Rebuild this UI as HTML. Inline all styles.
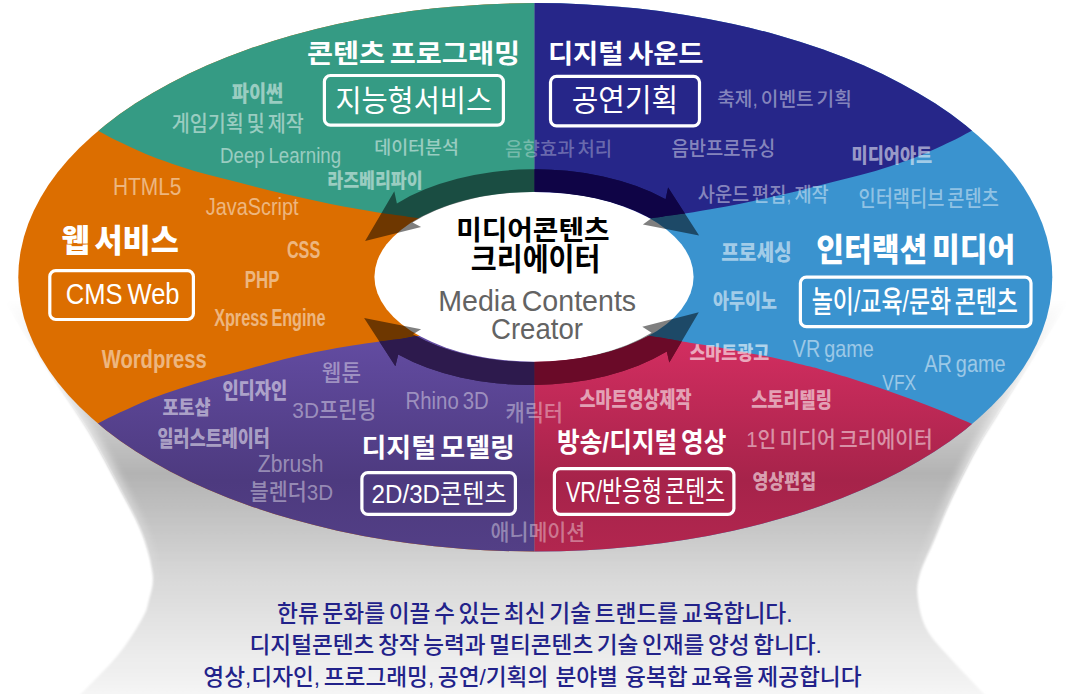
<!DOCTYPE html>
<html lang="ko"><head><meta charset="utf-8"><title>미디어콘텐츠 크리에이터</title>
<style>html,body{margin:0;padding:0;background:#fff}svg{display:block}text{font-family:"Liberation Sans","Noto Sans CJK KR",sans-serif;white-space:pre}</style></head><body>
<svg width="1074" height="694" viewBox="0 0 1074 694">
<defs>
<linearGradient id="gped" gradientUnits="userSpaceOnUse" x1="0" y1="300" x2="0" y2="694">
<stop offset="0" stop-color="#ffffff"/><stop offset="0.25" stop-color="#d6d6d6"/><stop offset="0.44" stop-color="#b3b3b3"/><stop offset="0.70" stop-color="#d8d8d8"/><stop offset="1" stop-color="#f5f5f5"/></linearGradient>
<linearGradient id="gpur" gradientUnits="userSpaceOnUse" x1="0" y1="336" x2="0" y2="552"><stop offset="0" stop-color="#634ca2"/><stop offset="0.67" stop-color="#4d3a7f"/><stop offset="1" stop-color="#533f86"/></linearGradient>
<linearGradient id="gcri" gradientUnits="userSpaceOnUse" x1="0" y1="336" x2="0" y2="552"><stop offset="0" stop-color="#d42e61"/><stop offset="0.67" stop-color="#a6234a"/><stop offset="1" stop-color="#b2264f"/></linearGradient>
<linearGradient id="ghl" gradientUnits="userSpaceOnUse" x1="0" y1="470" x2="0" y2="590"><stop offset="0" stop-color="#fff"/><stop offset="1" stop-color="#000"/></linearGradient>
<mask id="hlmask" maskUnits="userSpaceOnUse" x="-30" y="250" width="1140" height="480"><rect x="-30" y="250" width="1140" height="480" fill="url(#ghl)"/></mask>
<clipPath id="big"><ellipse cx="535.3" cy="277.3" rx="517" ry="274.2"/></clipPath>
<filter id="blur" x="-10%" y="-10%" width="120%" height="120%"><feGaussianBlur stdDeviation="1"/></filter>
<filter id="blur6" x="-10%" y="-10%" width="120%" height="120%"><feGaussianBlur stdDeviation="4"/></filter>
</defs>
<clipPath id="pedclip"><path d="M-22.0,262.0 C-18.3,267.2 -8.8,279.5 0.0,293.0 C8.8,306.5 21.3,327.7 31.0,343.0 C40.7,358.3 48.3,370.2 58.0,385.0 C67.7,399.8 79.0,415.3 89.0,432.0 C99.0,448.7 109.2,468.2 118.0,485.0 C126.8,501.8 136.2,518.1 142.0,533.0 C147.8,547.9 151.5,563.3 152.7,574.5 C153.9,585.7 150.8,592.6 149.0,600.0 C147.2,607.4 147.2,609.8 142.0,619.0 C136.8,628.2 128.2,642.5 118.0,655.0 C107.8,667.5 92.7,681.8 81.0,694.0 C69.3,706.2 53.5,722.3 48.0,728.0 L1015.0,728.0 C1009.5,722.0 992.8,703.7 982.0,692.0 C971.2,680.3 959.2,668.3 950.0,658.0 C940.8,647.7 932.3,639.7 927.0,630.0 C921.7,620.3 919.2,609.2 918.0,600.0 C916.8,590.8 916.8,585.0 919.5,575.0 C922.2,565.0 929.8,550.3 934.0,540.0 C938.2,529.7 941.2,521.8 945.0,513.0 C948.8,504.2 953.0,495.3 957.0,487.0 C961.0,478.7 965.0,470.7 969.0,463.0 C973.0,455.3 976.8,448.2 981.0,441.0 C985.2,433.8 987.7,430.2 994.0,420.0 C1000.3,409.8 1011.0,392.8 1019.0,380.0 C1027.0,367.2 1033.3,356.8 1042.0,343.0 C1050.7,329.2 1062.0,310.5 1071.0,297.0 C1080.0,283.5 1091.8,267.8 1096.0,262.0 Z"/></clipPath>
<path d="M-22.0,262.0 C-18.3,267.2 -8.8,279.5 0.0,293.0 C8.8,306.5 21.3,327.7 31.0,343.0 C40.7,358.3 48.3,370.2 58.0,385.0 C67.7,399.8 79.0,415.3 89.0,432.0 C99.0,448.7 109.2,468.2 118.0,485.0 C126.8,501.8 136.2,518.1 142.0,533.0 C147.8,547.9 151.5,563.3 152.7,574.5 C153.9,585.7 150.8,592.6 149.0,600.0 C147.2,607.4 147.2,609.8 142.0,619.0 C136.8,628.2 128.2,642.5 118.0,655.0 C107.8,667.5 92.7,681.8 81.0,694.0 C69.3,706.2 53.5,722.3 48.0,728.0 L1015.0,728.0 C1009.5,722.0 992.8,703.7 982.0,692.0 C971.2,680.3 959.2,668.3 950.0,658.0 C940.8,647.7 932.3,639.7 927.0,630.0 C921.7,620.3 919.2,609.2 918.0,600.0 C916.8,590.8 916.8,585.0 919.5,575.0 C922.2,565.0 929.8,550.3 934.0,540.0 C938.2,529.7 941.2,521.8 945.0,513.0 C948.8,504.2 953.0,495.3 957.0,487.0 C961.0,478.7 965.0,470.7 969.0,463.0 C973.0,455.3 976.8,448.2 981.0,441.0 C985.2,433.8 987.7,430.2 994.0,420.0 C1000.3,409.8 1011.0,392.8 1019.0,380.0 C1027.0,367.2 1033.3,356.8 1042.0,343.0 C1050.7,329.2 1062.0,310.5 1071.0,297.0 C1080.0,283.5 1091.8,267.8 1096.0,262.0 Z" fill="url(#gped)" filter="url(#blur)"/>
<g clip-path="url(#pedclip)" mask="url(#hlmask)"><path d="M-22.0,262.0 C-18.3,267.2 -8.8,279.5 0.0,293.0 C8.8,306.5 21.3,327.7 31.0,343.0 C40.7,358.3 48.3,370.2 58.0,385.0 C67.7,399.8 79.0,415.3 89.0,432.0 C99.0,448.7 109.2,468.2 118.0,485.0 C126.8,501.8 136.2,518.1 142.0,533.0 C147.8,547.9 151.5,563.3 152.7,574.5 C153.9,585.7 150.8,592.6 149.0,600.0 C147.2,607.4 147.2,609.8 142.0,619.0 C136.8,628.2 128.2,642.5 118.0,655.0 C107.8,667.5 92.7,681.8 81.0,694.0 C69.3,706.2 53.5,722.3 48.0,728.0 L1015.0,728.0 C1009.5,722.0 992.8,703.7 982.0,692.0 C971.2,680.3 959.2,668.3 950.0,658.0 C940.8,647.7 932.3,639.7 927.0,630.0 C921.7,620.3 919.2,609.2 918.0,600.0 C916.8,590.8 916.8,585.0 919.5,575.0 C922.2,565.0 929.8,550.3 934.0,540.0 C938.2,529.7 941.2,521.8 945.0,513.0 C948.8,504.2 953.0,495.3 957.0,487.0 C961.0,478.7 965.0,470.7 969.0,463.0 C973.0,455.3 976.8,448.2 981.0,441.0 C985.2,433.8 987.7,430.2 994.0,420.0 C1000.3,409.8 1011.0,392.8 1019.0,380.0 C1027.0,367.2 1033.3,356.8 1042.0,343.0 C1050.7,329.2 1062.0,310.5 1071.0,297.0 C1080.0,283.5 1091.8,267.8 1096.0,262.0 Z" fill="none" stroke="#fff" stroke-width="9" stroke-opacity="0.6" filter="url(#blur6)"/></g>
<g clip-path="url(#big)">
<rect x="0" y="0" width="534.5" height="694" fill="#dc6e00"/>
<rect x="534.5" y="0" width="540" height="694" fill="#3a93cf"/>
<path d="M534.5,-10 L-10,-10 L-10,110.5 L62.0,110.5 C65.0,112.2 73.8,117.5 80.0,121.0 C86.2,124.5 92.3,127.7 98.9,131.2 C105.5,134.7 111.3,137.9 119.8,142.0 C128.2,146.1 139.7,151.5 149.6,155.5 C159.5,159.5 169.5,162.9 179.4,166.2 C189.3,169.5 199.3,172.4 209.2,175.1 C219.1,177.8 228.9,180.0 239.0,182.6 C249.1,185.2 259.7,188.1 269.8,190.5 C279.9,192.9 289.7,195.0 299.6,197.2 C309.5,199.4 319.5,201.7 329.4,203.7 C339.3,205.7 350.5,207.7 359.2,209.2 C367.9,210.7 374.7,211.9 381.5,212.9 C388.3,213.9 394.3,214.6 400.0,215.4 C405.7,216.2 408.8,216.9 415.5,217.8 C422.2,218.7 435.9,220.5 440.0,221.0 L534.5,221.0 Z" fill="#359b84"/>
<path d="M534.5,-10 L1084,-10 L1084,110.5 L1007.7,110.5 C1004.7,112.2 995.9,117.5 989.7,121.0 C983.6,124.5 977.4,127.7 970.8,131.2 C964.2,134.7 958.4,137.9 949.9,142.0 C941.5,146.1 930.0,151.5 920.1,155.5 C910.2,159.5 900.2,162.9 890.3,166.2 C880.4,169.5 870.4,172.4 860.5,175.1 C850.6,177.8 840.8,180.0 830.7,182.6 C820.6,185.2 810.0,188.1 799.9,190.5 C789.8,192.9 780.0,195.0 770.1,197.2 C760.2,199.4 750.2,201.7 740.3,203.7 C730.4,205.7 719.2,207.7 710.5,209.2 C701.8,210.7 695.0,211.9 688.2,212.9 C681.4,213.9 675.4,214.6 669.7,215.4 C664.0,216.2 660.9,216.9 654.2,217.8 C647.5,218.7 633.8,220.5 629.7,221.0 L534.5,221.0 Z" fill="#262689"/>
<path d="M534.5,704 L-10,704 L-10,443.5 L62.0,443.5 C65.0,441.8 74.0,436.4 80.0,433.0 C86.0,429.6 91.6,426.7 98.2,423.3 C104.8,419.9 111.2,416.6 119.8,412.6 C128.4,408.6 139.7,403.2 149.6,399.2 C159.5,395.2 169.5,392.0 179.4,388.7 C189.3,385.4 199.3,382.4 209.2,379.5 C219.1,376.6 228.9,374.4 239.0,371.6 C249.1,368.8 259.7,365.6 269.8,362.9 C279.9,360.2 289.7,357.6 299.6,355.4 C309.5,353.2 319.5,351.3 329.4,349.5 C339.3,347.7 350.5,346.0 359.2,344.6 C367.9,343.2 374.7,342.2 381.5,341.3 C388.3,340.4 394.3,339.8 400.0,339.0 C405.7,338.2 408.8,337.3 415.5,336.3 C422.2,335.3 435.9,333.6 440.0,333.0 L534.5,333.0 Z" fill="url(#gpur)"/>
<path d="M534.5,704 L1084,704 L1084,439.5 L1008.0,439.5 C1005.0,438.2 996.2,434.2 990.0,431.5 C983.8,428.8 978.8,426.8 970.5,423.3 C962.2,419.8 950.2,414.4 940.0,410.3 C929.8,406.2 919.4,402.3 909.4,398.6 C899.4,394.9 889.9,391.5 880.0,388.1 C870.1,384.7 859.8,381.1 849.8,378.0 C839.8,374.9 826.8,371.1 820.0,369.2 C813.2,367.2 815.8,368.0 809.0,366.3 C802.2,364.6 789.1,361.1 779.2,358.9 C769.3,356.7 759.3,355.1 749.4,353.2 C739.5,351.3 729.5,349.2 719.6,347.5 C709.7,345.8 699.7,344.4 689.8,342.8 C679.9,341.2 668.3,339.0 660.0,337.6 C651.7,336.2 645.8,335.4 640.0,334.5 C634.2,333.6 627.5,332.4 625.0,332.0 L534.5,332.0 Z" fill="url(#gcri)"/>
</g>
<ellipse cx="534" cy="276.8" rx="159.6" ry="84.9" fill="#fff"/>
<g fill="#000" fill-opacity="0.5"><path d="M365.1,241 L394.3,191.3 L396.9,203.4 A189,107.9 0 0 1 665.6,199.2 L668.1,187.6 L699.1,235.5 L642.9,224.4 L651.1,218.4 A159.6,84.9 0 0 0 412.5,222.4 L421.1,226.9 Z"/><path d="M364.1,317.9 L421.1,329.2 L413,334.3 A159.6,84.9 0 0 0 651.6,332.8 L642.3,326.7 L698.8,312.3 L669.3,362.5 L666.8,351.5 A189,107.9 0 0 1 398.2,354.6 L395.4,366.3 Z"/></g>
<clipPath id="outw"><path clip-rule="evenodd" d="M-20,-20 H1100 V720 H-20 Z M374.4,276.8 A159.6,84.9 0 1 0 693.6,276.8 A159.6,84.9 0 1 0 374.4,276.8 Z"/></clipPath>
<clipPath id="csn"><path d="M534.5,-10 L1084,-10 L1084,110.5 L1007.7,110.5 C1004.7,112.2 995.9,117.5 989.7,121.0 C983.6,124.5 977.4,127.7 970.8,131.2 C964.2,134.7 958.4,137.9 949.9,142.0 C941.5,146.1 930.0,151.5 920.1,155.5 C910.2,159.5 900.2,162.9 890.3,166.2 C880.4,169.5 870.4,172.4 860.5,175.1 C850.6,177.8 840.8,180.0 830.7,182.6 C820.6,185.2 810.0,188.1 799.9,190.5 C789.8,192.9 780.0,195.0 770.1,197.2 C760.2,199.4 750.2,201.7 740.3,203.7 C730.4,205.7 719.2,207.7 710.5,209.2 C701.8,210.7 695.0,211.9 688.2,212.9 C681.4,213.9 675.4,214.6 669.7,215.4 C664.0,216.2 660.9,216.9 654.2,217.8 C647.5,218.7 633.8,220.5 629.7,221.0 L534.5,221.0 Z"/></clipPath>
<g clip-path="url(#outw)"><g clip-path="url(#csn)" fill="#0f0446"><path d="M365.1,241 L394.3,191.3 L396.9,203.4 A189,107.9 0 0 1 665.6,199.2 L668.1,187.6 L699.1,235.5 L642.9,224.4 L651.1,218.4 A159.6,84.9 0 0 0 412.5,222.4 L421.1,226.9 Z"/><path d="M364.1,317.9 L421.1,329.2 L413,334.3 A159.6,84.9 0 0 0 651.6,332.8 L642.3,326.7 L698.8,312.3 L669.3,362.5 L666.8,351.5 A189,107.9 0 0 1 398.2,354.6 L395.4,366.3 Z"/></g></g>
<clipPath id="csp"><path d="M534.5,704 L-10,704 L-10,443.5 L62.0,443.5 C65.0,441.8 74.0,436.4 80.0,433.0 C86.0,429.6 91.6,426.7 98.2,423.3 C104.8,419.9 111.2,416.6 119.8,412.6 C128.4,408.6 139.7,403.2 149.6,399.2 C159.5,395.2 169.5,392.0 179.4,388.7 C189.3,385.4 199.3,382.4 209.2,379.5 C219.1,376.6 228.9,374.4 239.0,371.6 C249.1,368.8 259.7,365.6 269.8,362.9 C279.9,360.2 289.7,357.6 299.6,355.4 C309.5,353.2 319.5,351.3 329.4,349.5 C339.3,347.7 350.5,346.0 359.2,344.6 C367.9,343.2 374.7,342.2 381.5,341.3 C388.3,340.4 394.3,339.8 400.0,339.0 C405.7,338.2 408.8,337.3 415.5,336.3 C422.2,335.3 435.9,333.6 440.0,333.0 L534.5,333.0 Z"/></clipPath>
<g clip-path="url(#outw)"><g clip-path="url(#csp)" fill="#2d1a4d"><path d="M365.1,241 L394.3,191.3 L396.9,203.4 A189,107.9 0 0 1 665.6,199.2 L668.1,187.6 L699.1,235.5 L642.9,224.4 L651.1,218.4 A159.6,84.9 0 0 0 412.5,222.4 L421.1,226.9 Z"/><path d="M364.1,317.9 L421.1,329.2 L413,334.3 A159.6,84.9 0 0 0 651.6,332.8 L642.3,326.7 L698.8,312.3 L669.3,362.5 L666.8,351.5 A189,107.9 0 0 1 398.2,354.6 L395.4,366.3 Z"/></g></g>
<clipPath id="csc"><path d="M534.5,704 L1084,704 L1084,439.5 L1008.0,439.5 C1005.0,438.2 996.2,434.2 990.0,431.5 C983.8,428.8 978.8,426.8 970.5,423.3 C962.2,419.8 950.2,414.4 940.0,410.3 C929.8,406.2 919.4,402.3 909.4,398.6 C899.4,394.9 889.9,391.5 880.0,388.1 C870.1,384.7 859.8,381.1 849.8,378.0 C839.8,374.9 826.8,371.1 820.0,369.2 C813.2,367.2 815.8,368.0 809.0,366.3 C802.2,364.6 789.1,361.1 779.2,358.9 C769.3,356.7 759.3,355.1 749.4,353.2 C739.5,351.3 729.5,349.2 719.6,347.5 C709.7,345.8 699.7,344.4 689.8,342.8 C679.9,341.2 668.3,339.0 660.0,337.6 C651.7,336.2 645.8,335.4 640.0,334.5 C634.2,333.6 627.5,332.4 625.0,332.0 L534.5,332.0 Z"/></clipPath>
<g clip-path="url(#outw)"><g clip-path="url(#csc)" fill="#6a0a28"><path d="M365.1,241 L394.3,191.3 L396.9,203.4 A189,107.9 0 0 1 665.6,199.2 L668.1,187.6 L699.1,235.5 L642.9,224.4 L651.1,218.4 A159.6,84.9 0 0 0 412.5,222.4 L421.1,226.9 Z"/><path d="M364.1,317.9 L421.1,329.2 L413,334.3 A159.6,84.9 0 0 0 651.6,332.8 L642.3,326.7 L698.8,312.3 L669.3,362.5 L666.8,351.5 A189,107.9 0 0 1 398.2,354.6 L395.4,366.3 Z"/></g></g>
<rect x="324.4" y="75.5" width="179.0" height="49.7" rx="6" ry="6" fill="none" stroke="#fff" stroke-width="3.2"/>
<rect x="550.5" y="76.3" width="149.0" height="49.5" rx="6" ry="6" fill="none" stroke="#fff" stroke-width="3.2"/>
<rect x="49.8" y="270.6" width="143.6" height="48.9" rx="6" ry="6" fill="none" stroke="#fff" stroke-width="3.2"/>
<rect x="800.4" y="277.1" width="230.6" height="49.6" rx="6" ry="6" fill="none" stroke="#fff" stroke-width="3.2"/>
<rect x="361.9" y="472.7" width="153.5" height="41.7" rx="6" ry="6" fill="none" stroke="#fff" stroke-width="3.2"/>
<rect x="554.4" y="468.6" width="179.5" height="45.8" rx="6" ry="6" fill="none" stroke="#fff" stroke-width="3.2"/>
<text transform="translate(306.92,62.51) scale(1.0685,1)" font-size="26.56" font-weight="700" fill="#ffffff" word-spacing="-3.19" xml:space="preserve">콘텐츠 프로그래밍</text>
<text transform="translate(547.89,63.41) scale(1.0471,1)" font-size="26.20" font-weight="700" fill="#ffffff" word-spacing="-3.14" xml:space="preserve">디지털 사운드</text>
<text transform="translate(61.58,252.38) scale(0.9499,1)" font-size="32.17" font-weight="900" fill="#ffffff" word-spacing="-3.86" xml:space="preserve">웹 서비스</text>
<text transform="translate(816.14,260.77) scale(0.9345,1)" font-size="32.28" font-weight="900" fill="#ffffff" word-spacing="-3.87" xml:space="preserve">인터랙션 미디어</text>
<text transform="translate(361.43,457.19) scale(1.0237,1)" font-size="26.42" font-weight="700" fill="#ffffff" word-spacing="-3.17" xml:space="preserve">디지털 모델링</text>
<text transform="translate(557.00,451.78) scale(0.8936,1)" font-size="27.59" font-weight="700" fill="#ffffff" word-spacing="-3.31" xml:space="preserve">방송/디지털 영상</text>
<text transform="translate(335.44,110.64) scale(0.9613,1)" font-size="29.51" font-weight="400" fill="#ffffff" xml:space="preserve">지능형서비스</text>
<text transform="translate(571.76,111.37) scale(0.9507,1)" font-size="30.38" font-weight="400" fill="#ffffff" xml:space="preserve">공연기획</text>
<text transform="translate(65.82,304.20) scale(0.8718,1)" font-size="29.28" font-weight="400" fill="#ffffff" word-spacing="-2.34" xml:space="preserve">CMS Web</text>
<text transform="translate(811.77,312.49) scale(0.7756,1)" font-size="29.57" font-weight="500" fill="#ffffff" word-spacing="-3.55" xml:space="preserve">놀이/교육/문화 콘텐츠</text>
<text transform="translate(371.59,503.29) scale(0.9185,1)" font-size="26.29" font-weight="400" fill="#ffffff" xml:space="preserve">2D/3D콘텐츠</text>
<text transform="translate(565.89,501.67) scale(0.7465,1)" font-size="29.07" font-weight="400" fill="#ffffff" word-spacing="-3.49" xml:space="preserve">VR/반응형 콘텐츠</text>
<text transform="translate(231.73,100.53) scale(0.8600,1)" font-size="21.69" font-weight="900" fill="#ffffff" fill-opacity="0.5" xml:space="preserve">파이썬</text>
<text transform="translate(171.72,131.14) scale(0.8953,1)" font-size="21.84" font-weight="500" fill="#ffffff" fill-opacity="0.5" word-spacing="-2.62" xml:space="preserve">게임기획 및 제작</text>
<text transform="translate(220.10,163.00) scale(0.8773,1)" font-size="21.30" font-weight="400" fill="#ffffff" fill-opacity="0.5" word-spacing="-1.70" xml:space="preserve">Deep Learning</text>
<text transform="translate(374.22,154.07) scale(1.0217,1)" font-size="18.04" font-weight="500" fill="#ffffff" fill-opacity="0.5" xml:space="preserve">데이터분석</text>
<text transform="translate(327.30,187.53) scale(0.8326,1)" font-size="20.74" font-weight="900" fill="#ffffff" fill-opacity="0.5" xml:space="preserve">라즈베리파이</text>
<text transform="translate(505.05,156.39) scale(0.9986,1)" font-size="18.92" font-weight="500" fill="#ffffff" fill-opacity="0.33" word-spacing="-2.27" xml:space="preserve">음향효과 처리</text>
<text transform="translate(717.24,106.28) scale(0.9885,1)" font-size="19.38" font-weight="500" fill="#ffffff" fill-opacity="0.45" word-spacing="-2.33" xml:space="preserve">축제, 이벤트 기획</text>
<text transform="translate(671.45,155.70) scale(0.9403,1)" font-size="20.00" font-weight="500" fill="#ffffff" fill-opacity="0.45" xml:space="preserve">음반프로듀싱</text>
<text transform="translate(851.60,163.35) scale(0.8548,1)" font-size="20.53" font-weight="900" fill="#ffffff" fill-opacity="0.55" xml:space="preserve">미디어아트</text>
<text transform="translate(697.75,201.87) scale(0.9222,1)" font-size="20.21" font-weight="500" fill="#ffffff" fill-opacity="0.45" word-spacing="-2.43" xml:space="preserve">사운드 편집, 제작</text>
<text transform="translate(858.49,206.20) scale(0.8812,1)" font-size="21.20" font-weight="500" fill="#ffffff" fill-opacity="0.45" word-spacing="-2.54" xml:space="preserve">인터랙티브 콘텐츠</text>
<text transform="translate(721.13,259.58) scale(0.9016,1)" font-size="21.28" font-weight="900" fill="#ffffff" fill-opacity="0.55" xml:space="preserve">프로세싱</text>
<text transform="translate(713.09,307.90) scale(0.8289,1)" font-size="20.95" font-weight="900" fill="#ffffff" fill-opacity="0.55" xml:space="preserve">아두이노</text>
<text transform="translate(689.39,359.92) scale(0.8769,1)" font-size="19.79" font-weight="900" fill="#ffffff" fill-opacity="0.6" xml:space="preserve">스마트광고</text>
<text transform="translate(792.80,357.00) scale(0.8529,1)" font-size="23.19" font-weight="400" fill="#ffffff" fill-opacity="0.5" word-spacing="-1.86" xml:space="preserve">VR game</text>
<text transform="translate(924.30,372.30) scale(0.8582,1)" font-size="23.19" font-weight="400" fill="#ffffff" fill-opacity="0.5" word-spacing="-1.86" xml:space="preserve">AR game</text>
<text transform="translate(882.31,390.00) scale(0.7741,1)" font-size="22.46" font-weight="400" fill="#ffffff" fill-opacity="0.5" xml:space="preserve">VFX</text>
<text transform="translate(579.49,407.24) scale(0.8067,1)" font-size="21.59" font-weight="900" fill="#ffffff" fill-opacity="0.58" xml:space="preserve">스마트영상제작</text>
<text transform="translate(751.19,407.30) scale(0.8382,1)" font-size="20.95" font-weight="900" fill="#ffffff" fill-opacity="0.58" xml:space="preserve">스토리텔링</text>
<text transform="translate(746.27,447.23) scale(0.9277,1)" font-size="21.96" font-weight="500" fill="#ffffff" fill-opacity="0.5" word-spacing="-2.63" xml:space="preserve">1인 미디어 크리에이터</text>
<text transform="translate(752.42,488.75) scale(0.8433,1)" font-size="20.53" font-weight="900" fill="#ffffff" fill-opacity="0.58" xml:space="preserve">영상편집</text>
<text transform="translate(321.85,380.84) scale(0.9522,1)" font-size="22.32" font-weight="500" fill="#ffffff" fill-opacity="0.42" xml:space="preserve">웹툰</text>
<text transform="translate(222.41,398.06) scale(0.8238,1)" font-size="21.38" font-weight="900" fill="#ffffff" fill-opacity="0.52" xml:space="preserve">인디자인</text>
<text transform="translate(162.39,415.49) scale(0.8673,1)" font-size="20.11" font-weight="900" fill="#ffffff" fill-opacity="0.52" xml:space="preserve">포토샵</text>
<text transform="translate(292.37,418.11) scale(0.9357,1)" font-size="22.28" font-weight="500" fill="#ffffff" fill-opacity="0.42" xml:space="preserve">3D프린팅</text>
<text transform="translate(405.57,409.40) scale(0.8669,1)" font-size="23.48" font-weight="400" fill="#ffffff" fill-opacity="0.42" word-spacing="-1.88" xml:space="preserve">Rhino 3D</text>
<text transform="translate(505.46,420.61) scale(0.9373,1)" font-size="22.28" font-weight="500" fill="#ffffff" fill-opacity="0.4" xml:space="preserve">캐릭터</text>
<text transform="translate(157.62,446.22) scale(0.7982,1)" font-size="21.80" font-weight="900" fill="#ffffff" fill-opacity="0.52" xml:space="preserve">일러스트레이터</text>
<text transform="translate(257.87,472.00) scale(0.8782,1)" font-size="24.06" font-weight="400" fill="#ffffff" fill-opacity="0.42" xml:space="preserve">Zbrush</text>
<text transform="translate(249.87,499.52) scale(0.9294,1)" font-size="22.17" font-weight="500" fill="#ffffff" fill-opacity="0.42" xml:space="preserve">블렌더3D</text>
<text transform="translate(490.57,540.18) scale(0.9613,1)" font-size="21.41" font-weight="500" fill="#ffffff" fill-opacity="0.4" xml:space="preserve">애니메이션</text>
<text transform="translate(112.93,195.00) scale(0.8788,1)" font-size="23.77" font-weight="400" fill="#ffffff" fill-opacity="0.5" xml:space="preserve">HTML5</text>
<text transform="translate(205.80,214.90) scale(0.8560,1)" font-size="23.19" font-weight="400" fill="#ffffff" fill-opacity="0.5" xml:space="preserve">JavaScript</text>
<text transform="translate(286.95,257.60) scale(0.6714,1)" font-size="24.06" font-weight="700" fill="#ffffff" fill-opacity="0.5" xml:space="preserve">CSS</text>
<text transform="translate(244.70,288.20) scale(0.7325,1)" font-size="23.04" font-weight="700" fill="#ffffff" fill-opacity="0.5" xml:space="preserve">PHP</text>
<text transform="translate(214.14,325.50) scale(0.6988,1)" font-size="23.19" font-weight="700" fill="#ffffff" fill-opacity="0.5" word-spacing="-1.86" xml:space="preserve">Xpress Engine</text>
<text transform="translate(101.70,368.00) scale(0.7698,1)" font-size="26.23" font-weight="700" fill="#ffffff" fill-opacity="0.5" xml:space="preserve">Wordpress</text>
<text transform="translate(456.14,239.56) scale(0.9999,1)" font-size="27.81" font-weight="700" fill="#000000" xml:space="preserve">미디어콘텐츠</text>
<text transform="translate(470.77,269.68) scale(0.9335,1)" font-size="30.22" font-weight="700" fill="#000000" xml:space="preserve">크리에이터</text>
<text transform="translate(438.21,310.70) scale(0.9720,1)" font-size="29.42" font-weight="400" fill="#636363" word-spacing="-2.35" xml:space="preserve">Media Contents</text>
<text transform="translate(491.02,338.80) scale(0.9564,1)" font-size="28.84" font-weight="400" fill="#636363" xml:space="preserve">Creator</text>
<text transform="translate(276.98,622.20) scale(0.9641,1)" font-size="23.57" font-weight="500" fill="#22228a" word-spacing="-2.83" xml:space="preserve">한류 문화를 이끌 수 있는 최신 기술 트랜드를 교육합니다.</text>
<text transform="translate(249.52,653.25) scale(0.9873,1)" font-size="22.92" font-weight="500" fill="#22228a" word-spacing="-2.75" xml:space="preserve">디지털콘텐츠 창작 능력과 멀티콘텐츠 기술 인재를 양성 합니다.</text>
<text transform="translate(203.34,684.84) scale(0.9903,1)" font-size="22.90" font-weight="500" fill="#22228a" word-spacing="-2.75" xml:space="preserve">영상,디자인, 프로그래밍, 공연/기획의  분야별  융복합 교육을 제공합니다</text>
</svg></body></html>
